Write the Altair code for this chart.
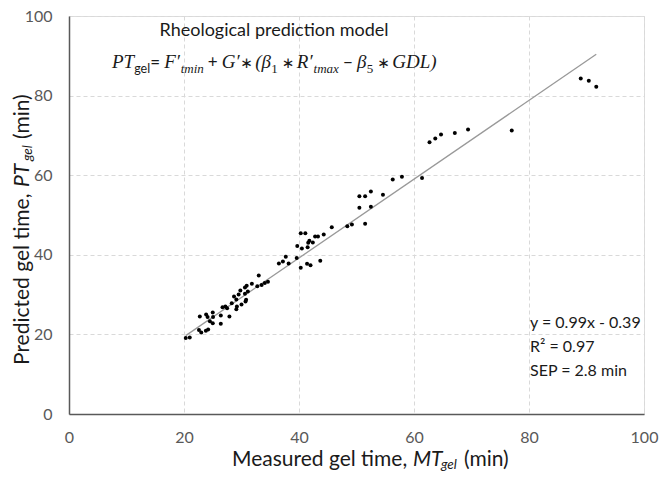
import altair as alt
import pandas as pd

# ---- data ----
measured = [20.3, 21.0, 22.6, 23.0, 23.8, 24.2, 22.75, 23.85, 24.1, 25.0, 25.05, 24.5, 25.0,
            26.4, 26.4, 27.9, 26.7, 27.2, 27.5, 28.3, 28.7, 29.1, 29.5, 29.1, 29.2, 30.0,
            30.7, 30.8, 30.6, 31.1, 29.8, 30.6, 30.9, 31.8, 32.75, 33.5, 34.05, 34.6, 33.0,
            36.5, 37.2, 37.7, 38.2, 39.6, 40.3, 41.4, 42.0, 39.7, 40.5, 41.5, 40.3, 41.1,
            41.6, 41.8, 42.4, 42.8, 43.3, 44.3, 45.7, 43.7, 48.4, 49.2, 50.5, 51.5, 52.5,
            50.5, 52.5, 51.5, 54.6, 56.3, 57.9, 61.4, 62.7, 63.7, 64.7, 67.1, 69.4, 77.0,
            89.0, 90.4, 91.7]
predicted = [19.1, 19.25, 21.1, 20.5, 20.9, 21.2, 24.5, 25.0, 24.4, 25.5, 24.4, 23.3, 22.8,
             22.7, 24.75, 24.5, 26.8, 27.0, 26.6, 27.8, 29.5, 28.75, 30.0, 26.3, 27.0, 27.5,
             28.25, 28.7, 30.2, 30.8, 31.0, 31.8, 32.25, 32.7, 32.1, 32.4, 32.9, 33.2, 34.8,
             37.8, 38.3, 39.5, 37.8, 39.2, 36.75, 37.75, 37.4, 42.2, 41.6, 41.9, 45.4, 45.4,
             43.0, 43.5, 43.1, 44.6, 44.6, 45.1, 46.9, 38.5, 47.2, 47.6, 54.7, 54.7, 55.9,
             51.8, 52.1, 47.8, 55.1, 58.9, 59.6, 59.3, 68.3, 69.25, 70.2, 70.6, 71.5, 71.2,
             84.3, 83.75, 82.2]
trend_x = [20.3, 91.7]
trend_y = [19.7, 90.4]
ticks = [0, 20, 40, 60, 80, 100]
stats_lines = ["y = 0.99x - 0.39", "R\u00b2 = 0.97", "SEP = 2.8 min"]

SANS = "Lato"
SERIF = "Liberation Serif"
LEFT, TOP = 69, 16  # page position of plot origin
W, H = 575, 398
CANVAS_W, CANVAS_H = 652, 464

pts = pd.DataFrame({"m": measured, "p": predicted})
trend = pd.DataFrame({"m": trend_x, "p": trend_y})

xs = alt.Scale(domain=[0, 100], nice=False)
ys = alt.Scale(domain=[0, 100], nice=False)


def make_axis(pad):
    return alt.Axis(values=ticks, title=None, grid=True, ticks=False, labelPadding=pad,
                    labelFlush=False, labelOverlap=False,
                    labelFontSize=16, labelFont=SANS, labelColor="#595959",
                    domainColor="#595959", domainWidth=1.5,
                    gridColor="#d9d9d9", gridDash=[4, 3], gridWidth=1)


points = alt.Chart(pts).mark_circle(size=16, color="#000000", opacity=1).encode(
    x=alt.X("m:Q", scale=xs, axis=make_axis(15)),
    y=alt.Y("p:Q", scale=ys, axis=make_axis(17)),
)
line = alt.Chart(trend).mark_line(color="#999999", strokeWidth=1.3).encode(
    x=alt.X("m:Q", scale=xs), y=alt.Y("p:Q", scale=ys)
)

one = pd.DataFrame({"a": [0]})


def txt(s, px, py, size, font=SANS, style="normal", align="left", angle=0, color="#1a1a1a"):
    kw = dict(text=s, align=align, baseline="alphabetic", font=font, fontSize=size,
              fontStyle=style, color=color)
    if angle:
        kw["angle"] = angle
    return alt.Chart(one).mark_text(**kw).encode(
        x=alt.value(px - LEFT), y=alt.value(py - TOP))


layers = [line, points]

# title block
layers.append(txt("Rheological prediction model", 274, 36, 18, align="center"))

# formula: (text, font, style, size, approx advance width px, gap before, subscript?)
MS, SS = 19, 13
formula = [
    ("PT", SERIF, "italic", MS, 22.2, 0, False),
    ("gel", SANS, "normal", 12.5, 16, 0, True),
    ("=", SANS, "normal", 17, 10, 0, False),
    ("F\u2032", SERIF, "italic", MS, 16.5, 4, False),
    ("tmin", SERIF, "italic", SS, 23, 0, True),
    ("+", SANS, "normal", 17, 10, 4, False),
    ("G\u2032", SERIF, "italic", MS, 18.5, 4, False),
    ("\u2217", "DejaVu Sans", "normal", 15, 11, 0, False),
    ("(", SERIF, "italic", MS, 6.3, 4, False),
    ("\u03b2", SERIF, "italic", MS, 9.8, 0, False),
    ("1", SERIF, "normal", SS, 6.5, 0, True),
    ("\u2217", "DejaVu Sans", "normal", 15, 11, 4, False),
    ("R\u2032", SERIF, "italic", MS, 16.8, 4, False),
    ("tmax", SERIF, "italic", SS, 25.3, 0, True),
    ("\u2212", SANS, "normal", 17, 10, 4, False),
    ("\u03b2", SERIF, "italic", MS, 9.8, 4, False),
    ("5", SERIF, "normal", SS, 6.5, 0, True),
    ("\u2217", "DejaVu Sans", "normal", 15, 11, 4, False),
    ("GDL)", SERIF, "italic", MS, 44, 4, False),
]
cx = 112
B = 68
for s, f, st, sz, w, gap, sub in formula:
    cx += gap
    layers.append(txt(s, cx, B + (5 if sub else 0), sz, font=f, style=st))
    cx += w

# stats
for i, s in enumerate(stats_lines):
    layers.append(txt(s, 530, 328 + 24 * i, 16))

# x title
TS = 21
XB = 466
layers += [
    txt("Measured gel time,", 232, XB, TS),
    txt("MT", 413, XB, TS, style="italic"),
    txt("gel", 441, XB + 3, 13.5, style="italic"),
    txt("(min)", 464, XB, TS),
]
# y title (rotated)
YX = 29
layers += [
    txt("Predicted gel time,", YX, 365, TS, angle=270),
    txt("PT", YX, 187, TS, style="italic", angle=270),
    txt("gel", YX + 3, 161, 13.5, style="italic", angle=270),
    txt("(min)", YX, 139, TS, angle=270),
]

chart = alt.layer(*layers).properties(
    width=W, height=H,
    autosize=alt.AutoSizeParams(type="none"),
    padding={"left": LEFT - 8, "top": TOP - 8,
             "right": CANVAS_W - (LEFT - 8) - W,
             "bottom": CANVAS_H - (TOP - 8) - H},
).configure_view(stroke="#595959", strokeWidth=1.5).configure(background="white")

chart.save("out.html", embed_options={"renderer": "svg", "actions": False})
